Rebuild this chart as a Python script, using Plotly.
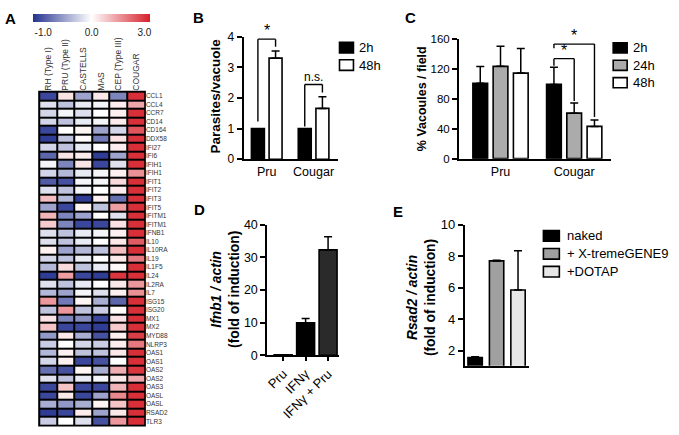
import plotly.graph_objects as go

W, H = 679, 435
def px(x):
    return x / W
def py(y):
    return 1 - y / H

FONT = "Liberation Sans, Arial, sans-serif"

# ---------------- Data ----------------
heat_cols = ["RH (Type I)", "PRU (Type II)", "CASTELLS", "MAS", "CEP (Type III)", "COUGAR"]
genes = ["CCL1", "CCL4", "CCR7", "CD14", "CD164", "DDX58", "IFI27", "IFI6", "IFIH1", "IFIH1",
         "IFIT1", "IFIT2", "IFIT3", "IFIT5", "IFITM1", "IFITM1", "IFNB1", "IL10", "IL10RA", "IL19",
         "IL1F5", "IL24", "IL2RA", "IL7", "ISG15", "ISG20", "MX1", "MX2", "MYD88", "NLRP3",
         "OAS1", "OAS1", "OAS2", "OAS2", "OAS3", "OASL", "OASL", "RSAD2", "TLR3"]
rh = [-0.9, -0.15, -0.2, -0.2, -0.9, -0.95, -0.2, -0.75, -0.05, -0.2,
      -0.8, -0.15, 0.9, -0.45, 1.0, 0.7, -0.15, -0.15, 0.2, -0.2,
      -0.35, -0.95, -0.15, -0.35, 1.4, -0.3, 0.4, 0.8, -0.5, -0.25,
      -0.35, -0.2, -0.7, -0.15, -0.9, -0.9, -0.4, -0.95, -0.25]
pru = [0.4, -0.3, -0.05, -0.3, 0.0, -0.3, -0.3, 0.35, -0.6, -0.35,
       -0.85, -0.3, -0.35, -0.9, -0.6, -0.6, -0.3, -0.3, -0.45, -0.3,
       0.5, 1.3, -0.3, -0.45, -0.65, 1.4, -0.6, -0.9, 0.3, 0.0,
       0.2, 0.2, -0.85, -0.3, 0.8, 0.3, -0.5, -0.9, 0.0]
castells = [-0.45, -0.1, -0.15, -0.1, 0.15, 0.05, -0.1, 0.25, 0.35, -0.1,
            -0.05, -0.05, -0.95, 0.15, -0.45, -0.9, -0.1, -0.1, -0.35, -0.1,
            -0.3, -0.9, -0.1, -0.05, 0.15, -0.3, -0.55, -0.9, -0.4, -0.2,
            -0.3, -0.9, 0.15, -0.1, -0.9, -0.9, -0.4, 0.25, -0.15]
mas = [0.3, -0.05, 0.0, -0.05, -0.45, -0.65, 0.0, -0.95, -0.9, -0.05,
       -0.05, 0.0, 0.2, -0.3, 0.0, -0.9, -0.05, 0.0, -0.3, 0.0,
       -0.1, -0.95, 0.0, -0.15, -0.4, -0.25, -0.9, -0.95, -0.85, -0.25,
       -0.3, -0.85, -0.4, -0.05, -0.9, -0.45, 0.15, -0.45, -0.85]
cep = [-0.6, 0.25, 0.2, 0.25, -0.2, 0.4, 0.25, -0.45, -0.15, 0.2,
       0.5, 0.25, -0.7, 1.3, -0.15, 0.4, 0.2, 0.3, 0.9, 0.3,
       0.1, 2.7, 0.3, 0.2, -0.75, 0.05, 0.4, 0.7, 0.2, 0.25,
       0.3, 0.0, 1.1, 0.3, 1.0, 1.6, 0.8, 0.3, 1.4]
cougar = [2.8, 1.2, 2.8, 2.8, 2.3, 2.8, 2.8, 2.8, 2.8, 1.5,
          2.8, 2.8, 2.8, 2.8, 2.8, 2.8, 2.8, 2.2, 2.8, 1.8,
          2.8, 2.8, 1.4, 1.5, 2.8, 2.8, 2.8, 2.8, 2.6, 1.8,
          2.8, 2.8, 2.7, 1.2, 2.8, 2.8, 2.8, 2.8, 2.8]
heat_min, heat_mid, heat_max = -1.0, 0.0, 3.0

b_groups = ["Pru", "Cougar"]
b_series = ["2h", "48h"]
b_2h = [1.0, 1.0]
b_48h = [3.3, 1.66]
b_48h_err = [0.23, 0.38]
b_sig = ["*", "n.s."]
b_sig_top = [3.92, 2.44]

c_groups = ["Pru", "Cougar"]
c_series = ["2h", "24h", "48h"]
c_2h = [101, 99.5]
c_2h_err = [22.5, 23]
c_24h = [123.7, 61]
c_24h_err = [26.8, 13.4]
c_48h = [114.6, 43.2]
c_48h_err = [33, 8.6]
c_sig_top = [134, 153.5]   # Cougar 2h vs 24h, Cougar 2h vs 48h

d_cats = ["Pru", "IFNγ", "IFNγ + Pru"]
d_vals = [0.2, 10.0, 32.3]
d_err = [0.0, 1.3, 4.0]

e_series = ["naked", "+ X-tremeGENE9", "+DOTAP"]
e_vals = [1.55, 7.7, 5.85]
e_err = [0.05, 0.05, 2.5]

# ---------------- Figure ----------------
fig = go.Figure()

# Heatmap: map values to a diverging colour position (-1..0 blue, 0..3 red)
def cpos(v):
    return v / abs(heat_min) if v < heat_mid else v / heat_max

cols = [rh, pru, castells, mas, cep, cougar]
z = [[cpos(cols[j][i]) for j in range(len(cols))] for i in range(len(genes))]

fig.add_trace(go.Heatmap(
    z=z, x=list(range(len(heat_cols))), y=list(range(len(genes))),
    zmin=-1, zmax=1, xgap=2, ygap=2,
    colorscale=[[0, "#25338f"], [0.5, "#ffffff"], [1, "#d6202a"]],
    xaxis="x", yaxis="y", hoverinfo="skip",
    colorbar=dict(orientation="h", x=px(90), xanchor="center", len=117 / W, lenmode="fraction",
                  y=py(7), yanchor="top", thickness=8, outlinewidth=0, xpad=0, ypad=0,
                  tickvals=[-0.83, 0, 0.9],
                  ticktext=["%.1f" % heat_min, "%.1f" % heat_mid, "%.1f" % heat_max],
                  ticks="outside", ticklen=2, tickcolor="rgba(0,0,0,0)",
                  tickfont=dict(size=10, color="#222", family=FONT)),
))

def bar(x, y, color, off, wid, xa, ya, err=None):
    ey = None
    if err is not None:
        ey = dict(type="data", array=err, arrayminus=[0] * len(err), symmetric=False,
                  color="black", thickness=1.5, width=4)
    return go.Bar(x=x, y=y, marker=dict(color=color, line=dict(color="black", width=1.6)),
                  offset=off, width=wid, xaxis=xa, yaxis=ya, error_y=ey,
                  showlegend=False, hoverinfo="skip")

# Panel B
b_w, b_step = 0.277, 0.377
b_offs = [-b_step / 2 - b_w / 2, b_step / 2 - b_w / 2]
fig.add_trace(bar(b_groups, b_2h, "black", b_offs[0], b_w, "x2", "y2"))
fig.add_trace(bar(b_groups, b_48h, "white", b_offs[1], b_w, "x2", "y2", b_48h_err))

# Panel C
c_w, c_step = 0.2, 0.275
c_offs = [-c_step - c_w / 2, -c_w / 2, c_step - c_w / 2]
c_colors = ["black", "#ababab", "white"]
for vals, errs, off, col in zip([c_2h, c_24h, c_48h], [c_2h_err, c_24h_err, c_48h_err], c_offs, c_colors):
    fig.add_trace(bar(c_groups, vals, col, off, c_w, "x3", "y3", errs))

# Panel D
d_w = 0.8
fig.add_trace(go.Bar(x=d_cats, y=d_vals, width=d_w,
                     marker=dict(color=["black", "black", "#2a2a2a"], line=dict(color="black", width=1.6)),
                     error_y=dict(type="data", array=d_err, arrayminus=[0] * 3, symmetric=False,
                                  color="black", thickness=1.5, width=4),
                     xaxis="x4", yaxis="y4", showlegend=False, hoverinfo="skip"))

# Panel E
e_w = 0.67
e_colors = ["black", "#a0a0a0", "#e6e6e6"]
fig.add_trace(go.Bar(x=e_series, y=e_vals, width=e_w,
                     marker=dict(color=e_colors, line=dict(color="black", width=1.6)),
                     error_y=dict(type="data", array=e_err, arrayminus=[0] * 3, symmetric=False,
                                  color="black", thickness=1.5, width=4),
                     xaxis="x5", yaxis="y5", showlegend=False, hoverinfo="skip"))

shapes = []
annotations = []

# black frame behind heatmap (cell borders)
shapes.append(dict(type="rect", xref="paper", yref="paper", x0=px(36.3), x1=px(144.3),
                   y0=py(433.5), y1=py(86.5), fillcolor="black", line=dict(width=0), layer="below"))

def line(xa, ya, x0, y0, x1, y1):
    shapes.append(dict(type="line", xref=xa, yref=ya, x0=x0, y0=y0, x1=x1, y1=y1,
                       line=dict(color="black", width=1.4)))

def bracket(xa, ya, xl, ybl, xr, ybr, ytop, text, size):
    line(xa, ya, xl, ybl, xl, ytop)
    line(xa, ya, xl, ytop, xr, ytop)
    line(xa, ya, xr, ytop, xr, ybr)
    annotations.append(dict(x=(xl + xr) / 2, y=ytop, xref=xa, yref=ya, text=text, showarrow=False,
                            yanchor="bottom", font=dict(size=size, color="black", family=FONT), yshift=-2))

# B brackets
b_cen = [o + b_w / 2 for o in b_offs]
for gi in range(2):
    bracket("x2", "y2", gi + b_cen[0], b_2h[gi] + (0.23 if gi == 0 else 0.07),
            gi + b_cen[1], b_48h[gi] + b_48h_err[gi] + 0.14,
            b_sig_top[gi], b_sig[gi], 16 if b_sig[gi] == "*" else 12)

# C brackets (Cougar group)
c_cen = [o + c_w / 2 for o in c_offs]
bracket("x3", "y3", 1 + c_cen[0], c_2h[1] + c_2h_err[1] + 2, 1 + c_cen[1],
        c_24h[1] + c_24h_err[1] + 3, c_sig_top[0], "*", 16)
bracket("x3", "y3", 1 + c_cen[0], c_sig_top[0] + 14, 1 + c_cen[2],
        c_48h[1] + c_48h_err[1] + 4, c_sig_top[1], "*", 16)

# Manual legends
def legend(names, colors, x0, x1, ys, tx, size):
    for n, c, (ya, yb) in zip(names, colors, ys):
        shapes.append(dict(type="rect", xref="paper", yref="paper", x0=px(x0), x1=px(x1),
                           y0=py(yb), y1=py(ya), fillcolor=c, line=dict(color="black", width=1.6)))
        annotations.append(dict(x=px(tx), y=py((ya + yb) / 2), xref="paper", yref="paper", text=n,
                                showarrow=False, xanchor="left", yanchor="middle", borderpad=0,
                                font=dict(size=size, color="black", family=FONT)))

legend(b_series, ["black", "white"], 338.5, 352.5, [(36.5, 47.5), (54.5, 65.5)], 357, 13)
legend(c_series, c_colors, 613, 627, [(37, 47.5), (55, 65.5), (73, 83.5)], 631.5, 13)
legend(e_series, e_colors, 543, 559, [(231, 242), (249.5, 260.5), (268, 279)], 566, 13)

# Panel letters
for t, x, y in [("A", 9, 12), ("B", 197, 11), ("C", 410, 11), ("D", 198, 209), ("E", 397, 211)]:
    annotations.append(dict(x=px(x), y=py(y), xref="paper", yref="paper", text="<b>%s</b>" % t,
                            showarrow=False, xanchor="center", yanchor="middle",
                            font=dict(size=15, color="black", family=FONT)))

# Y titles
for t, x, y, s in [("<b>Parasites/vacuole</b>", 214, 92, 13.5),
                   ("<b>% Vacoules / field</b>", 421.5, 95, 12.5),
                   ("<b><i>Ifnb1 / actin</i></b><br><b>(fold of induction)</b>", 224, 292, 13.8),
                   ("<b><i>Rsad2 / actin</i></b><br><b>(fold of induction)</b>", 421, 300, 13.8)]:
    annotations.append(dict(x=px(x), y=py(y), xref="paper", yref="paper", text=t, textangle=-90,
                            showarrow=False, xanchor="center", yanchor="middle",
                            font=dict(size=s, color="black", family=FONT)))

ax_common = dict(showgrid=False, zeroline=False, showline=True, linecolor="black", linewidth=1.8,
                 tickfont=dict(size=12, color="black", family=FONT))
y_common = dict(ax_common, ticks="outside", ticklen=5, tickwidth=1.5, tickcolor="black")

fig.update_layout(
    width=W, height=H, margin=dict(l=0, r=0, t=0, b=0),
    paper_bgcolor="white", plot_bgcolor="white", barmode="overlay",
    font=dict(family=FONT, color="black"),
    xaxis=dict(domain=[px(37.3), px(143.3)], anchor="y", side="top", range=[-0.5, 5.5],
               tickvals=list(range(len(heat_cols))), ticktext=heat_cols, tickangle=-90,
               ticks="", showline=False, showgrid=False, zeroline=False,
               tickfont=dict(size=8.5, color="#333", family=FONT)),
    yaxis=dict(domain=[py(432.5), py(87.5)], anchor="x", side="right", range=[len(genes) - 0.5, -0.5],
               tickvals=list(range(len(genes))), ticktext=genes, ticks="", showline=False,
               showgrid=False, zeroline=False, tickfont=dict(size=6.5, color="#333", family=FONT)),
    xaxis2=dict(ax_common, domain=[px(242.3), px(336.7)], anchor="y2", range=[-0.494, 1.515],
                ticks="", tickfont=dict(size=12.5, color="black", family=FONT)),
    yaxis2=dict(y_common, domain=[py(157.3), py(30.7)], anchor="x2", range=[0, 4], dtick=1,
                tickfont=dict(size=12, color="black", family=FONT)),
    xaxis3=dict(ax_common, domain=[px(458.3), px(610.7)], anchor="y3", range=[-0.564, 1.498],
                ticks="", tickfont=dict(size=12.5, color="black", family=FONT)),
    yaxis3=dict(y_common, domain=[py(156.7), py(33.3)], anchor="x3", range=[0, 160],
                tickvals=[0, 40, 80, 120, 160], tickfont=dict(size=11.5, color="black", family=FONT)),
    xaxis4=dict(ax_common, domain=[px(266), px(338.3)], anchor="y4", range=[-0.71, 2.5],
                ticks="outside", ticklen=4, tickwidth=1.5, tickcolor="black", tickangle=-45,
                tickfont=dict(size=13, color="black", family=FONT)),
    yaxis4=dict(y_common, domain=[py(360), py(225)], anchor="x4", range=[0, 40], dtick=10,
                tickfont=dict(size=12.5, color="black", family=FONT)),
    xaxis5=dict(ax_common, domain=[px(464), px(528.3)], anchor="y5", range=[-0.49, 2.5],
                ticks="", showticklabels=False),
    yaxis5=dict(y_common, domain=[py(370.7), py(225)], anchor="x5", range=[1.03, 10],
                tickvals=[2, 4, 6, 8, 10], tickfont=dict(size=13, color="black", family=FONT)),
    shapes=shapes, annotations=annotations,
)

fig.write_html("out.html", config={"displayModeBar": False},
               post_script="document.body.style.margin='0';document.body.style.overflow='hidden';")
